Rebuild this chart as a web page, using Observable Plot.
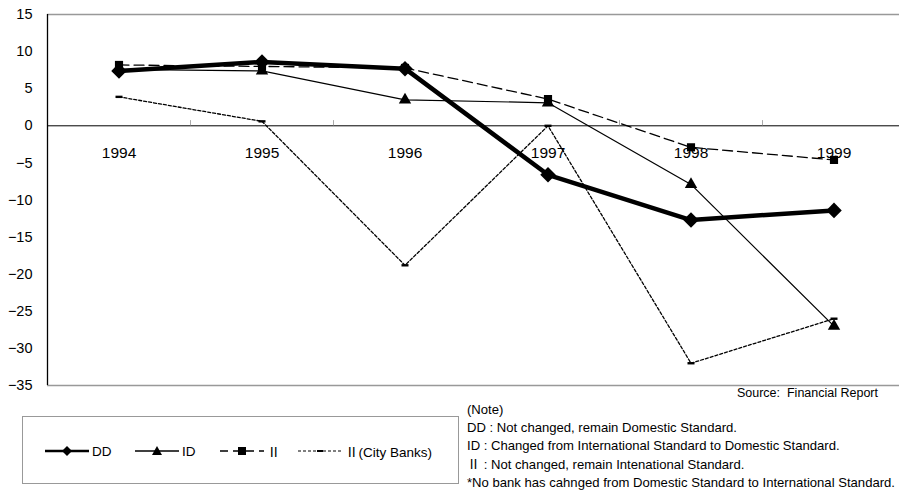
<!DOCTYPE html>
<html><head><meta charset="utf-8">
<script src="https://cdn.jsdelivr.net/npm/d3@7"></script>
<script src="https://cdn.jsdelivr.net/npm/@observablehq/plot@0.6"></script>
<style>
html,body{margin:0;padding:0;background:#fff;overflow:hidden;}
body{width:899px;height:491px;position:relative;font-family:"Liberation Sans","Noto Sans CJK JP",sans-serif;color:#000;}
#chart{position:absolute;left:0;top:0;}
.abs{position:absolute;white-space:nowrap;}
#notes div{font-size:13.1px;line-height:18.2px;}
#legend{position:absolute;left:22px;top:416px;width:437px;height:68px;border:1px solid #999;box-sizing:border-box;}
.li{position:absolute;top:26px;height:16px;display:flex;align-items:center;font-size:13.5px;}
</style></head>
<body>
<div id="chart"></div>
<div class="abs" style="right:21px;top:386px;font-size:12.5px;">Source:&nbsp; Financial Report</div>
<div id="notes" class="abs" style="left:467px;top:401px;">
<div>(Note)</div>
<div>DD : Not changed, remain Domestic Standard.</div>
<div>ID : Changed from International Standard to Domestic Standard.</div>
<div>Ⅱ : Not changed, remain Intenational Standard.</div>
<div>*No bank has cahnged from Domestic Standard to International Standard.</div>
</div>
<div id="legend"></div>
<script>
const years = ["1994","1995","1996","1997","1998","1999"];
const seriesNames = ["DD","ID","Ⅱ","Ⅱ(City Banks)"];
const ddValues = [7.4, 8.6, 7.7, -6.6, -12.7, -11.4];
const idValues = [7.6, 7.4, 3.5, 3.1, -7.9, -27.0];
const iiValues = [8.2, 8.0, 7.8, 3.6, -2.9, -4.6];
const cityValues = [3.9, 0.6, -18.8, 0.0, -32.0, -26.0];
const yTicks = [15, 10, 5, 0, -5, -10, -15, -20, -25, -30, -35];

const toRows = (vals, s) => vals.map((v, i) => ({year: years[i], value: v, series: s}));
const dd = toRows(ddValues, seriesNames[0]);
const id = toRows(idValues, seriesNames[1]);
const ii = toRows(iiValues, seriesNames[2]);
const city = toRows(cityValues, seriesNames[3]);

const dashSymbol = {draw(ctx, size){ ctx.rect(-3.5, -1.2, 7, 2.4); }};

const plot = Plot.plot({
  width: 899, height: 400,
  marginLeft: 47, marginRight: 0, marginTop: 14, marginBottom: 15,
  x: {type: "band", domain: years, range: [47, 905], padding: 0, axis: null},
  y: {domain: [-35, 15], axis: null},
  style: {fontFamily: '"Liberation Sans","Noto Sans CJK JP",sans-serif', background: "transparent"},
  marks: [
    Plot.ruleY([15, -35], {stroke: "#999", strokeWidth: 1.5}),
    Plot.ruleY([0], {stroke: "#000", strokeWidth: 1}),
    Plot.ruleX(years.slice(1), {x: d => d, y1: 0, y2: 0.7, stroke: "#aaa", strokeWidth: 1, dx: -71.5}),
    Plot.ruleX([years[0]], {x: d => d, y1: -35, y2: 15, stroke: "#000", strokeWidth: 1.3, dx: -71.5}),
    Plot.text(yTicks, {y: d => d, frameAnchor: "left", dx: -15, textAnchor: "end", text: d => d < 0 ? "\u2212" + Math.abs(d) : String(d), fontSize: 14.5}),
    Plot.text(years, {x: d => d, y: 0, dy: 27, text: d => d, fontSize: 15.5}),
    Plot.line(city, {x: "year", y: "value", stroke: "#000", strokeWidth: 1.3, strokeDasharray: "3,2"}),
    Plot.dot(city, {x: "year", y: "value", symbol: dashSymbol, fill: "#000", r: 3}),
    Plot.line(ii, {x: "year", y: "value", stroke: "#000", strokeWidth: 1.3, strokeDasharray: "10,5"}),
    Plot.dot(ii, {x: "year", y: "value", symbol: "square", fill: "#000", r: 4.6}),
    Plot.line(id, {x: "year", y: "value", stroke: "#000", strokeWidth: 1.2}),
    Plot.dot(id, {x: "year", y: "value", symbol: "triangle", fill: "#000", r: 4.6}),
    Plot.line(dd, {x: "year", y: "value", stroke: "#000", strokeWidth: 4.5}),
    Plot.dot(dd, {x: "year", y: "value", symbol: "diamond2", fill: "#000", r: 7})
  ]
});
document.getElementById("chart").appendChild(plot);

// legend
const legend = document.getElementById("legend");
const items = [
  {name: seriesNames[0], left: 22, w: 44, sw: 2.6, dash: null, marker: "diamond"},
  {name: seriesNames[1], left: 112, w: 44, sw: 1.3, dash: null, marker: "triangle"},
  {name: seriesNames[2], left: 197, w: 44, sw: 1.3, dash: "8,5", marker: "square"},
  {name: seriesNames[3], left: 275, w: 44, sw: 1.1, dash: "3,2", marker: "dash"}
];
for (const it of items) {
  const div = document.createElement("div");
  div.className = "li";
  div.style.left = it.left + "px";
  const svg = d3.create("svg").attr("width", it.w).attr("height", 16);
  svg.append("line").attr("x1", 0).attr("x2", it.w).attr("y1", 8).attr("y2", 8)
    .attr("stroke", "#000").attr("stroke-width", it.sw).attr("stroke-dasharray", it.dash);
  const cx = it.w / 2;
  if (it.marker === "diamond") svg.append("path").attr("d", `M${cx},3L${cx+5},8L${cx},13L${cx-5},8Z`).attr("fill", "#000");
  if (it.marker === "triangle") svg.append("path").attr("d", `M${cx},3L${cx+5},12L${cx-5},12Z`).attr("fill", "#000");
  if (it.marker === "square") svg.append("rect").attr("x", cx-4).attr("y", 4).attr("width", 8).attr("height", 8).attr("fill", "#000");
  if (it.marker === "dash") svg.append("rect").attr("x", cx-3).attr("y", 7).attr("width", 6).attr("height", 2).attr("fill", "#000");
  div.appendChild(svg.node());
  const t = document.createElement("span");
  t.textContent = it.name;
  t.style.marginLeft = "3px";
  div.appendChild(t);
  legend.appendChild(div);
}
</script>
</body></html>
